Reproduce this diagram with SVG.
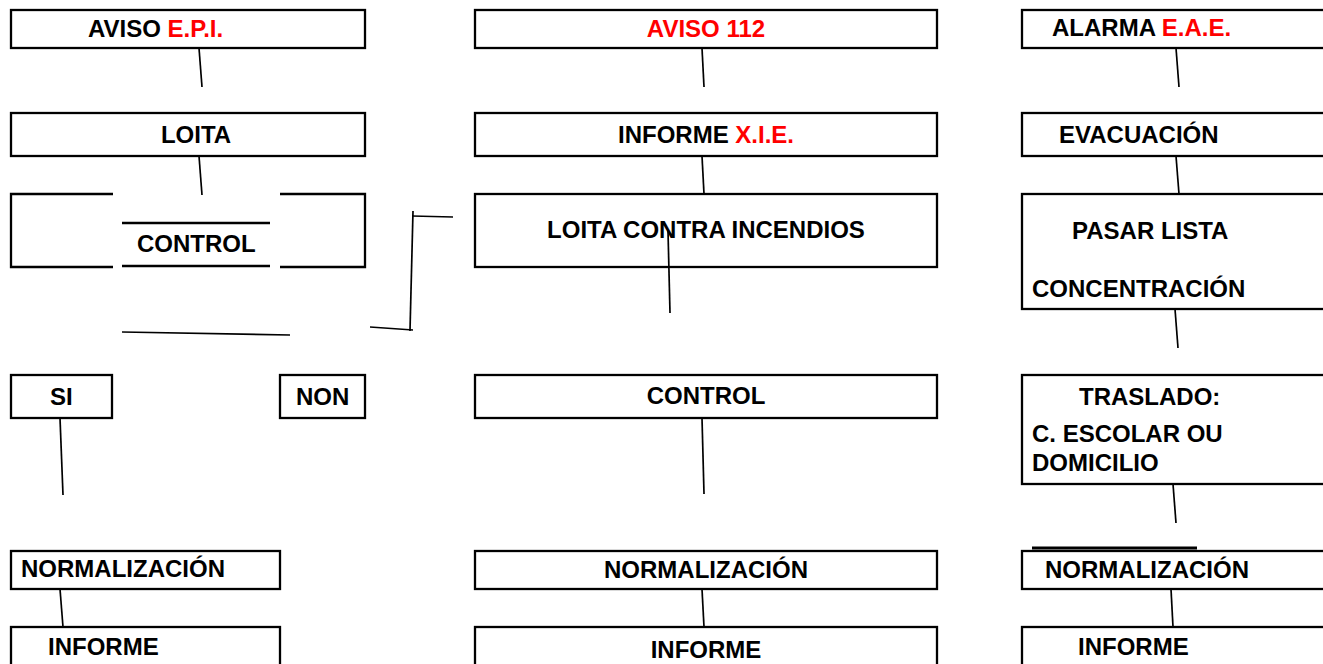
<svg xmlns="http://www.w3.org/2000/svg" width="1323" height="664" viewBox="0 0 1323 664">
<style>
.box{fill:none;stroke:#000;stroke-width:2.3}
.edge{fill:none;stroke:#000;stroke-width:2.3}
.ln{fill:none;stroke:#000;stroke-width:1.7}
text{font-family:"Liberation Sans",Arial,sans-serif;font-weight:bold;font-size:24px;fill:#000}
.r{fill:#ff0000}
.m{text-anchor:middle}
</style>
<rect width="1323" height="664" fill="#fff"/>
<g id="connectors">
<line class="ln" x1="199" y1="48" x2="202" y2="87"/>
<line class="ln" x1="199" y1="156" x2="202" y2="195"/>
<line class="ln" x1="122" y1="332" x2="290" y2="335"/>
<line class="ln" x1="370" y1="327" x2="413" y2="330"/>
<line class="ln" x1="413" y1="211" x2="410" y2="331"/>
<line class="ln" x1="412" y1="216" x2="453" y2="217"/>
<line class="ln" x1="60" y1="418" x2="63" y2="495"/>
<line class="ln" x1="60" y1="589" x2="63" y2="627"/>
<line class="ln" x1="702" y1="48" x2="704" y2="87"/>
<line class="ln" x1="702" y1="156" x2="704" y2="194"/>
<line class="ln" x1="668" y1="231" x2="670" y2="313"/>
<line class="ln" x1="702" y1="418" x2="704" y2="494"/>
<line class="ln" x1="702" y1="589" x2="704" y2="627"/>
<line class="ln" x1="1176" y1="48" x2="1179" y2="87"/>
<line class="ln" x1="1176" y1="156" x2="1179" y2="194"/>
<line class="ln" x1="1175" y1="309" x2="1178" y2="348"/>
<line class="ln" x1="1173" y1="484" x2="1176" y2="523"/>
<line class="ln" x1="1171" y1="589" x2="1173" y2="627"/>
<line x1="1032" y1="548" x2="1197" y2="548" stroke="#000" stroke-width="3"/>
</g>
<g id="aviso-epi"><rect class="box" x="11" y="10" width="354" height="38"/><text x="88" y="37">AVISO <tspan class="r">E.P.I.</tspan></text></g>
<g id="loita"><rect class="box" x="11" y="113" width="354" height="43"/><text class="m" x="196" y="143">LOITA</text></g>
<g id="control-left">
<path class="edge" d="M113,194 H11 V267 H113 M280,194 H365 V267 H280"/>
<line class="edge" x1="122" y1="223" x2="270" y2="223"/>
<line class="edge" x1="122" y1="266" x2="270" y2="266"/>
<text x="137" y="252">CONTROL</text>
</g>
<g id="si"><rect class="box" x="11" y="375" width="101" height="43"/><text x="50" y="405">SI</text></g>
<g id="non"><rect class="box" x="280" y="375" width="85" height="43"/><text x="296" y="405">NON</text></g>
<g id="norm-left"><rect class="box" x="11" y="551" width="269" height="38"/><text x="21" y="577">NORMALIZACIÓN</text></g>
<g id="informe-left"><rect class="box" x="11" y="627" width="269" height="50"/><text x="48" y="655">INFORME</text></g>
<g id="aviso-112"><rect class="box" x="475" y="10" width="462" height="38"/><text class="m r" x="706" y="37">AVISO 112</text></g>
<g id="informe-xie"><rect class="box" x="475" y="113" width="462" height="43"/><text class="m" x="706" y="143">INFORME <tspan class="r">X.I.E.</tspan></text></g>
<g id="loita-contra"><rect class="box" x="475" y="194" width="462" height="73"/><text class="m" x="706" y="238">LOITA CONTRA INCENDIOS</text></g>
<g id="control-mid"><rect class="box" x="475" y="375" width="462" height="43"/><text class="m" x="706" y="404">CONTROL</text></g>
<g id="norm-mid"><rect class="box" x="475" y="551" width="462" height="38"/><text class="m" x="706" y="578">NORMALIZACIÓN</text></g>
<g id="informe-mid"><rect class="box" x="475" y="627" width="462" height="50"/><text class="m" x="706" y="658">INFORME</text></g>
<g id="alarma-eae"><rect class="box" x="1022" y="10" width="310" height="38"/><text x="1052" y="36">ALARMA <tspan class="r">E.A.E.</tspan></text></g>
<g id="evacuacion"><rect class="box" x="1022" y="113" width="310" height="43"/><text x="1059" y="143">EVACUACIÓN</text></g>
<g id="pasar-lista"><rect class="box" x="1022" y="194" width="310" height="115"/><text x="1072" y="239">PASAR LISTA</text><text x="1032" y="297">CONCENTRACIÓN</text></g>
<g id="traslado"><rect class="box" x="1022" y="375" width="310" height="109"/><text x="1079" y="405">TRASLADO:</text><text x="1032" y="442">C. ESCOLAR OU</text><text x="1032" y="471">DOMICILIO</text></g>
<g id="norm-right"><rect class="box" x="1022" y="551" width="310" height="38"/><text x="1045" y="578">NORMALIZACIÓN</text></g>
<g id="informe-right"><rect class="box" x="1022" y="627" width="310" height="50"/><text x="1078" y="655">INFORME</text></g>
</svg>
